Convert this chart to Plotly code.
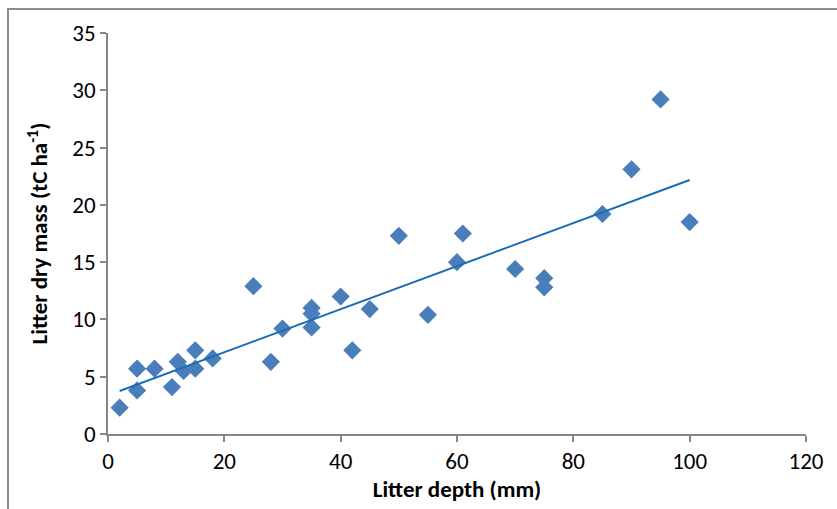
import numpy as np
import plotly.graph_objects as go

# Data
litter_depth_mm = [2, 5, 5, 8, 11, 12, 13, 15, 15, 18, 25, 28, 30, 35, 35, 35,
                   40, 42, 45, 50, 55, 60, 61, 70, 75, 75, 85, 90, 95, 100]
litter_dry_mass = [2.3, 5.7, 3.8, 5.7, 4.1, 6.3, 5.5, 7.3, 5.7, 6.6, 12.9, 6.3, 9.2, 11.0, 10.5, 9.3,
                   12.0, 7.3, 10.9, 17.3, 10.4, 15.0, 17.5, 14.4, 13.6, 12.8, 19.2, 23.1, 29.2, 18.5]

x_ticks = [0, 20, 40, 60, 80, 100, 120]
y_ticks = [0, 5, 10, 15, 20, 25, 30, 35]

# Linear trend line (least squares), spanning the data range
slope, intercept = np.polyfit(litter_depth_mm, litter_dry_mass, 1)
trend_x = [min(litter_depth_mm), max(litter_depth_mm)]
trend_y = [slope * v + intercept for v in trend_x]

font_family = "Carlito, Calibri, Lato, sans-serif"
axis_color = "#868686"

fig = go.Figure()
fig.add_trace(go.Scatter(
    x=litter_depth_mm, y=litter_dry_mass, mode="markers",
    marker=dict(symbol="diamond", size=14, color="#4A7EBB",
                line=dict(width=0)),
    showlegend=False,
))
fig.add_trace(go.Scatter(
    x=trend_x, y=trend_y, mode="lines",
    line=dict(color="#1B6DB3", width=2),
    showlegend=False,
))

fig.update_layout(
    width=837, height=509,
    margin=dict(l=108, r=31, t=33, b=75),
    paper_bgcolor="white", plot_bgcolor="white",
    font=dict(family=font_family, size=21, color="#000000"),
    xaxis=dict(
        range=[0, 120], tickvals=x_ticks, ticktext=[str(v) for v in x_ticks],
        showgrid=False, zeroline=False, automargin=False,
        showline=True, linecolor=axis_color, linewidth=1.5,
        ticks="outside", ticklen=6, tickcolor=axis_color, tickwidth=1.5,
        tickfont=dict(family=font_family, size=23, color="#000000"),
        title=dict(text="<b>Litter depth (mm)</b>", font=dict(size=23), standoff=6),
    ),
    yaxis=dict(
        range=[0, 35], tickvals=y_ticks, ticktext=[str(v) for v in y_ticks],
        showgrid=False, zeroline=False, automargin=False,
        showline=True, linecolor=axis_color, linewidth=1.5,
        ticks="outside", ticklen=6, tickcolor=axis_color, tickwidth=1.5,
        tickfont=dict(family=font_family, size=23, color="#000000"),
        title=dict(text="<b>Litter dry mass (tC ha<sup>-1</sup>)</b>", font=dict(size=23), standoff=18),
    ),
)

# outer chart frame (left and top edges visible, like the reference)
fig.add_shape(type="rect", xref="paper", yref="paper",
              x0=-100/698, x1=1.2, y0=-0.3, y1=1 + 24/401,
              line=dict(color="#8C8C8C", width=2), fillcolor="rgba(0,0,0,0)",
              layer="below")

fig.write_html("out.html")
